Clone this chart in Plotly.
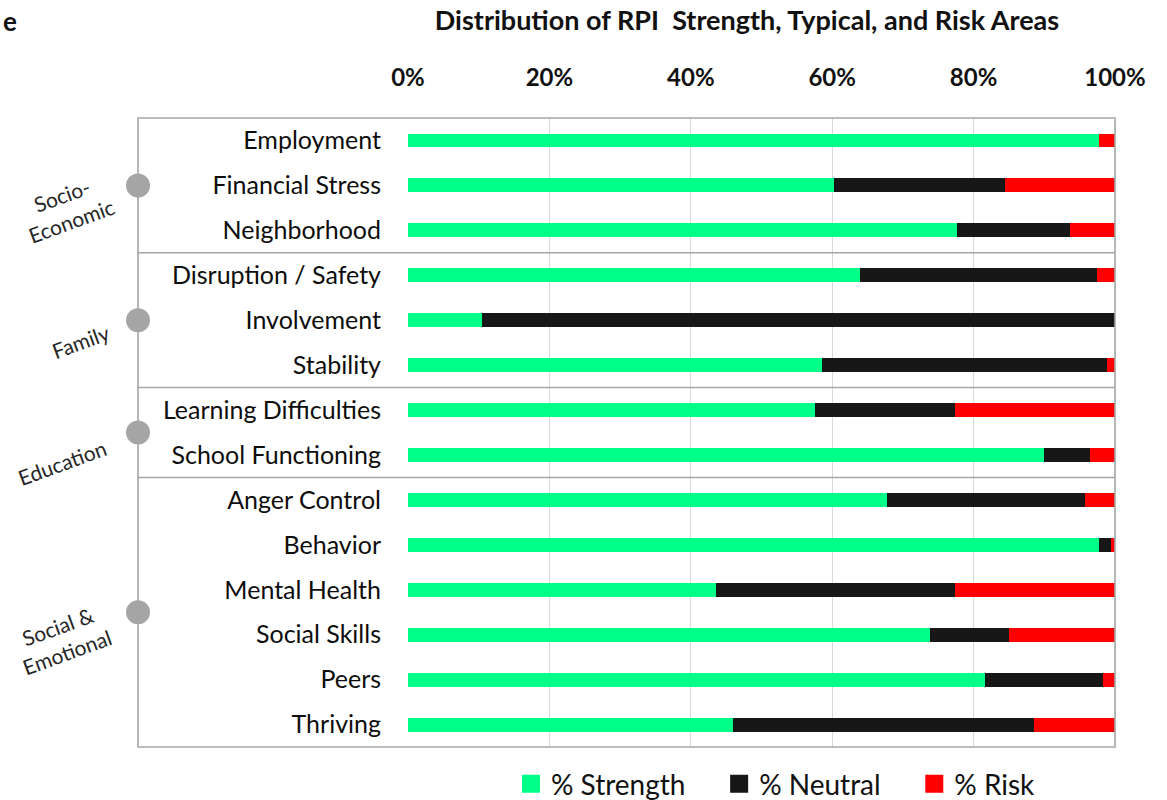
import plotly.graph_objects as go

# ---- data ----
categories = ["Employment", "Financial Stress", "Neighborhood", "Disruption / Safety",
              "Involvement", "Stability", "Learning Difficulties", "School Functioning",
              "Anger Control", "Behavior", "Mental Health", "Social Skills", "Peers", "Thriving"]
strength = [97.7, 60.3, 77.6, 64.0, 10.5, 58.6, 57.5, 90.0, 67.7, 97.7, 43.6, 73.9, 81.6, 45.9]
neutral  = [0.0, 24.1, 16.1, 33.4, 89.5, 40.2, 19.8, 6.5, 28.0, 1.7, 33.7, 11.1, 16.7, 42.7]
risk     = [2.3, 15.6, 6.3, 2.6, 0.0, 1.2, 22.7, 3.5, 4.3, 0.6, 22.7, 15.0, 1.7, 11.4]
series_names = ["% Strength", "% Neutral", "% Risk"]
series_colors = ["#00FF88", "#171717", "#FF0000"]
groups = [("Socio-<br>Economic", 0, 2), ("Family", 3, 5), ("Education", 6, 7),
          ("Social &<br>Emotional", 8, 13)]
group_label_offsets = [(-72, -23), (-58, -21), (-76, -30), (-76, -27)]
x_ticks = [0, 20, 40, 60, 80, 100]
x_tick_labels = ["0%", "20%", "40%", "60%", "80%", "100%"]
title_text = "Distribution of RPI  Strength, Typical, and Risk Areas"

W, H = 1167, 800
L, R, T, B = 408, 52, 118, 50
pw = W - L - R
ph = H - T - B
frame_left = (138 - L) / pw
legend_pad = "\u00a0" * 4

fig = go.Figure()
for name, vals, col in zip(series_names, [strength, neutral, risk], series_colors):
    fig.add_trace(go.Bar(y=categories, x=vals, orientation="h", name=name,
                         marker=dict(color=col, line=dict(width=0)), showlegend=False))
# legend entries with larger square symbols
for i, (name, col) in enumerate(zip(series_names, series_colors)):
    label = name + (legend_pad if i < len(series_names) - 1 else "")
    fig.add_trace(go.Scatter(x=[None], y=[None], mode="markers", name=label,
                             marker=dict(symbol="square", size=16, color=col,
                                         line=dict(width=2, color=col))))

shapes = []
shapes.append(dict(type="rect", xref="paper", yref="paper", x0=frame_left, x1=1, y0=0, y1=1,
                   line=dict(color="#A6A6A6", width=1.6), layer="above"))
for g in groups[:-1]:
    yb = g[2] + 0.5
    shapes.append(dict(type="line", xref="paper", yref="y", x0=frame_left, x1=1, y0=yb, y1=yb,
                       line=dict(color="#A6A6A6", width=1.6), layer="above"))
annotations = []
for (label, a, b), (dx, dy) in zip(groups, group_label_offsets):
    yc = (a + b) / 2
    shapes.append(dict(type="circle", xref="paper", yref="y", xsizemode="pixel", ysizemode="pixel",
                       xanchor=frame_left, yanchor=yc, x0=-12, x1=12, y0=-12, y1=12,
                       fillcolor="#A5A5A5", line=dict(width=0), layer="above"))
    annotations.append(dict(text=label, xref="paper", yref="y", x=frame_left, y=yc,
                            xshift=dx, yshift=dy, showarrow=False, textangle=-20,
                            xanchor="center", yanchor="middle", align="center",
                            font=dict(family="Lato", size=21, color="#262626")))
# leftover text at top-left edge
annotations.append(dict(text="<b>e</b>", xref="paper", yref="paper", x=(1 - L) / pw,
                        y=1 + (T - 21) / ph, xanchor="left", yanchor="middle",
                        showarrow=False, font=dict(family="Lato", size=26, color="#111111")))

fig.update_layout(
    width=W, height=H,
    margin=dict(l=L, r=R, t=T, b=B, pad=0),
    paper_bgcolor="white", plot_bgcolor="white",
    barmode="stack", bargap=0.69,
    title=dict(text="<b>" + title_text + "</b>", x=747 / W, xanchor="center",
               y=1 - 21 / H, yanchor="middle", xref="container",
               font=dict(family="Lato", size=27, color="#111111")),
    xaxis=dict(side="top", range=[0, 100], tickvals=x_ticks, ticktext=x_tick_labels,
               showgrid=True, gridcolor="#D9D9D9", gridwidth=1.4, zeroline=False,
               showline=False, ticks="", ticklabelstandoff=26,
               tickfont=dict(family="Lato", size=24, color="#111111", weight="bold")),
    yaxis=dict(autorange="reversed", showgrid=False, zeroline=False, showline=False,
               ticks="", ticklabelstandoff=26,
               tickfont=dict(family="Lato", size=25, color="#0D0D0D")),
    legend=dict(orientation="h", x=(776 - L) / pw, xanchor="center", yref="container",
                y=1 - 784 / H, yanchor="middle", traceorder="normal",
                font=dict(family="Lato", size=28, color="#111111"),
                bgcolor="rgba(0,0,0,0)"),
    shapes=shapes, annotations=annotations,
    showlegend=True,
)

fig.write_html("out.html", config={"displayModeBar": False},
               post_script="document.body.style.margin='0';document.body.style.padding='0';")
